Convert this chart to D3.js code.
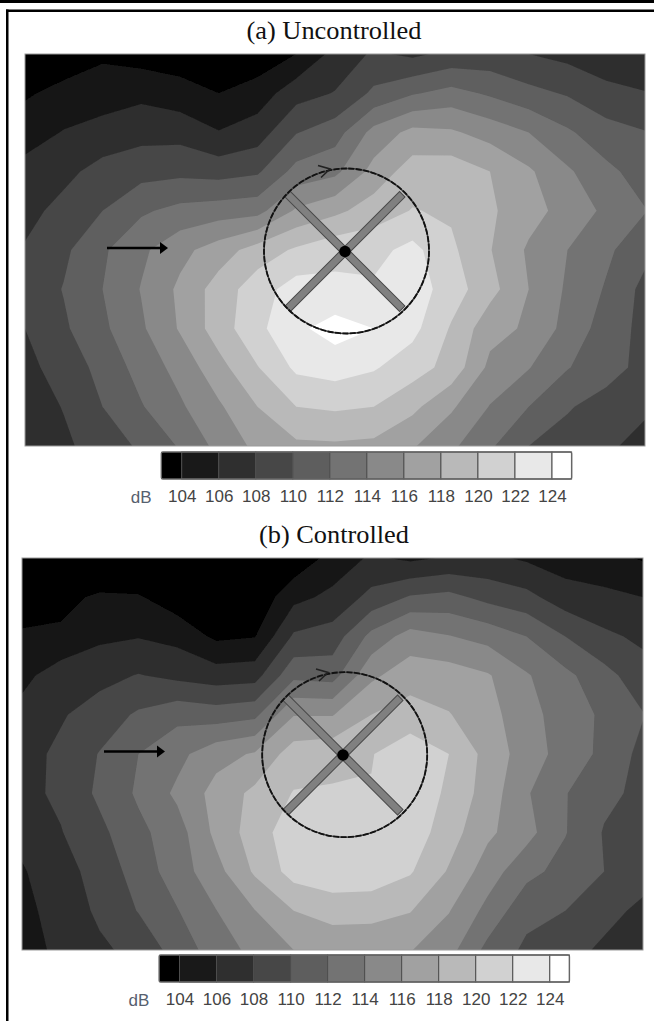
<!DOCTYPE html>
<html>
<head>
<meta charset="utf-8">
<title>Uncontrolled / Controlled</title>
<script src="https://cdn.jsdelivr.net/npm/d3@7"></script>
<style>
body { margin: 0; background: #fff; }
svg { display: block; }
</style>
</head>
<body>
<div id="chart"></div>
<script>
var uncontrolledCols = [
	[102,103.7,105.2,106.6,107.3,108.2,108.6,108,107.4,106.9,106.5],
	[102.6,104.7,106.1,107.4,108.7,109.6,110.1,109.7,108.9,108.1,107.6],
	[103.6,105.2,106.6,108.8,110,111.7,112,111.6,110.6,110,109],
	[103.1,105.5,107.3,109.3,111.7,113.6,114.1,113.7,112.8,111.85,110.3],
	[102.9,104.8,107.3,109.5,112.6,115.4,116.4,116.2,114.7,113.7,112.2],
	[102,104,106.1,109.2,113,117,118.9,119,117.3,115.7,114.6],
	[102.7,104.9,107,109.7,113.3,118.9,121.1,121.5,119.9,118,116.5],
	[104,107.2,109.9,112.7,116.3,120.3,122.9,123.6,122.4,120,117.6],
	[106.65,108.1,111.1,113.5,117.5,121.4,122.5,124.8,122.9,120.3,117.7],
	[108.3,110.4,114.7,116.7,119,121.4,122.3,124,122.2,120,117.5],
	[107.6,111.8,116.6,119,120.1,122.6,123.1,122.6,120.9,118.5,116.2],
	[108.5,112.7,116.3,119.2,119.7,120.4,121,119.8,119.3,116.3,114.4],
	[108.7,111.7,115.2,118,118.3,118.1,118.7,116.7,115.5,113.9,112.3],
	[108,110.6,114,116.3,116.8,115.7,116,115.7,114.1,112,110],
	[107.4,109.8,112.3,114.3,115.2,114,113.7,113.3,112.1,110.2,109.1],
	[106.7,108.6,110.8,112.5,113.6,112.4,111.8,111.1,110.9,109.1,108.3],
	[106.3,108.1,110.1,111.1,112.1,110.6,109.4,109.4,109.3,108.3,107.4]
];
var controlledCols = [
	[100.5,103.2,104.2,105.4,106.7,107.3,107.4,106.6,105.8,105.3,104.9],
	[100.8,103.5,104.3,107.1,107.8,108.4,108.4,107.9,107.3,107,106.6],
	[101.8,104.3,105.6,107.4,108.9,110.1,110.4,109.5,108.7,108.3,107.7],
	[101.5,104.2,105.9,108.1,110.3,112,112.3,111.5,110.9,110.1,108.5],
	[101,102.8,105.4,107.5,111.4,113.4,114.4,113.1,113,111.9,110.9],
	[101,102,103.6,107,111,115.3,116.7,116.5,115.3,113.95,112.9],
	[101,102.5,103.9,107.2,111.5,116.2,118.5,119,118.3,115.95,114.6],
	[102.5,105.4,108.3,111.5,115.9,119,120.1,121.2,120.8,118,116],
	[104.7,106.5,108.9,111.2,115.9,119.4,120.2,121.5,121.3,118.9,116.4],
	[106.3,108.6,112.6,115.6,118,119.9,120.1,121.6,121.2,118.8,116.4],
	[105.6,110.2,114.9,117.1,118.9,121.2,121.5,121.2,120.2,118.1,116.1],
	[106.2,110.6,114.1,117,118.1,120,119.6,118.9,117.8,116.1,114.7],
	[106.4,109.4,113.3,116.2,116.8,117.3,117.1,116.4,115,113.4,111.4],
	[105.7,108.6,112,114.2,114.6,115,114.2,114.7,112.6,110.6,109.6],
	[105,106.9,110,112.5,113.2,113.2,112.1,112.1,111.3,110,108.8],
	[104.6,106.5,108.4,110.7,111.6,111.5,110.5,109.85,110,108.7,107.6],
	[103.8,106,107.6,108.8,110.1,109.4,109.5,109,108.9,107.5,106.5]
];

var levels = [104,106,108,110,112,114,116,118,120,122,124];
var grays = ["#000000","#191919","#2f2f2f","#474747","#5e5e5e","#737373","#898989","#a1a1a1","#b9b9b9","#d1d1d1","#e8e8e8","#ffffff"];
var legendEnds = [102.9,125.06];
var bladeAngles = [45,135,225,315];

var color = d3.scaleThreshold().domain(levels).range(grays);

var svg = d3.select("#chart").append("svg")
	.attr("width", 654)
	.attr("height", 1021);

svg.append("defs").append("filter")
	.attr("id", "soft")
	.append("feGaussianBlur")
	.attr("stdDeviation", 0.6);

// page rules
svg.append("rect").attr("x", 0).attr("y", 0).attr("width", 654).attr("height", 3).style("fill", "#000");
svg.append("rect").attr("x", 6).attr("y", 9.5).attr("width", 648).attr("height", 2.5).style("fill", "#000");
svg.append("rect").attr("x", 6).attr("y", 9.5).attr("width", 2.5).attr("height", 1012).style("fill", "#000");

//=================panel===============//
function drawPanel(p){
	var nCol = p.cols.length, nRow = p.cols[0].length;
	var x = d3.scaleLinear().domain([0, nCol-1]).range([p.x0, p.x1]);
	var y = d3.scaleLinear().domain([0, nRow-1]).range([p.y0, p.y1]);

	svg.append("text")
		.attr("x", p.titleX)
		.attr("y", p.titleY)
		.attr("text-anchor", "middle")
		.attr("textLength", p.titleW)
		.attr("lengthAdjust", "spacingAndGlyphs")
		.style("font-family", "'Liberation Serif'")
		.style("font-size", "24.5px")
		.style("fill", "#111")
		.text(p.title);

	svg.append("clipPath").attr("id", p.id)
		.append("rect")
		.attr("x", p.x0).attr("y", p.y0)
		.attr("width", p.x1-p.x0).attr("height", p.y1-p.y0);

	var values = d3.merge(d3.transpose(p.cols));
	var contours = d3.contours().size([nCol, nRow]).smooth(true).thresholds(levels)(values);
	// d3.contours puts the samples in the middle of each cell
	var path = d3.geoPath(d3.geoTransform({
		point: function(a, b){ this.stream.point(x(a-0.5), y(b-0.5)); }
	}));

	var g = svg.append("g").attr("clip-path", "url(#"+p.id+")");
	var soft = g.append("g").attr("filter", "url(#soft)");
	soft.append("rect")
		.attr("x", p.x0-3).attr("y", p.y0-3)
		.attr("width", p.x1-p.x0+6).attr("height", p.y1-p.y0+6)
		.style("fill", grays[0]);
	soft.selectAll("path")
		.data(contours)
		.enter()
		.append("path")
		.attr("d", path)
		.style("fill", function(d){ return color(d.value)});

	svg.append("rect")
		.attr("x", p.x0).attr("y", p.y0)
		.attr("width", p.x1-p.x0).attr("height", p.y1-p.y0)
		.style("fill", "none")
		.style("stroke", "#9a9a9a")
		.style("stroke-width", 1);

	// flow arrow
	svg.append("line")
		.attr("x1", p.arrowX).attr("y1", p.arrowY)
		.attr("x2", p.arrowX+54).attr("y2", p.arrowY)
		.style("stroke", "#000").style("stroke-width", 2.6);
	svg.append("path")
		.attr("transform", "translate("+(p.arrowX+61)+","+p.arrowY+")")
		.attr("d", "M0,0L-8,-6L-8,6Z")
		.style("fill", "#000");

	// rotor
	var rotor = svg.append("g").attr("transform", "translate("+p.hubX+","+p.hubY+")");
	rotor.selectAll("rect")
		.data(bladeAngles)
		.enter()
		.append("rect")
		.attr("x", 0).attr("y", -3.8)
		.attr("width", 81).attr("height", 7.6)
		.attr("transform", function(d){ return "rotate("+d+")"})
		.style("fill", "#808080")
		.style("stroke", "#4a4a4a")
		.style("stroke-width", 1);
	rotor.append("circle").attr("r", 5.8).style("fill", "#000");

	var ring = svg.append("g").attr("transform", "translate("+p.ringX+","+p.ringY+")");
	ring.append("circle").attr("r", 82.5)
		.style("fill", "none").style("stroke", "#444").style("stroke-width", 1.5);
	ring.append("circle").attr("r", 82.5)
		.style("fill", "none").style("stroke", "#111").style("stroke-width", 1.8)
		.style("stroke-dasharray", "6,1.5");
	svg.append("path")
		.attr("transform", "translate("+p.hubX+","+p.hubY+")")
		.attr("d", "M-27,-86L-15,-82.5L-24,-74")
		.style("fill", "none")
		.style("stroke", "#222")
		.style("stroke-width", 1.6);

	// legend
	var lx = d3.scaleLinear().domain([levels[0], levels[levels.length-1]]).range([p.legendX, p.legendX+370.3]);
	var stops = [legendEnds[0]].concat(levels, [legendEnds[1]]);
	var legend = svg.append("g");
	legend.selectAll("rect")
		.data(d3.pairs(stops))
		.enter()
		.append("rect")
		.attr("x", function(d){ return lx(d[0])})
		.attr("y", p.legendY)
		.attr("width", function(d){ return lx(d[1])-lx(d[0])})
		.attr("height", 27)
		.style("fill", function(d){ return color(d[0])})
		.style("stroke", function(d,i){ return i==0 ? "none" : "#4d4d4d"})
		.style("stroke-width", 1);
	legend.append("rect")
		.attr("x", lx(legendEnds[0]))
		.attr("y", p.legendY)
		.attr("width", lx(legendEnds[1])-lx(legendEnds[0]))
		.attr("height", 27)
		.attr("rx", 1.5)
		.style("fill", "none")
		.style("stroke", "#666")
		.style("stroke-width", 1.4);

	var axis = d3.axisBottom(lx).tickValues(levels.filter(function(d){ return d%2==0})).tickSize(0).tickPadding(0);
	var ax = svg.append("g")
		.attr("transform", "translate(0,"+(p.legendY+38)+")")
		.call(axis);
	ax.select(".domain").remove();
	ax.selectAll("text")
		.style("font-family", "'Liberation Sans'")
		.style("font-size", "17px")
		.style("fill", "#444");
	svg.append("text")
		.attr("x", p.legendX-40.5)
		.attr("y", p.legendY+50.5)
		.attr("text-anchor", "middle")
		.style("font-family", "'Liberation Sans'")
		.style("font-size", "17px")
		.style("fill", "#56606e")
		.text("dB");
}

drawPanel({ id:"clipA", title:"(a) Uncontrolled", cols:uncontrolledCols,
	x0:25, x1:645, y0:54, y1:446, titleX:334, titleY:39, titleW:175,
	arrowX:107, arrowY:248, hubX:345, hubY:251.5, ringX:346.5, ringY:251,
	legendX:181.7, legendY:452 });

drawPanel({ id:"clipB", title:"(b) Controlled", cols:controlledCols,
	x0:22, x1:643, y0:558, y1:950, titleX:334, titleY:543, titleW:150,
	arrowX:104, arrowY:751.5, hubX:343, hubY:755, ringX:344.7, ringY:754.7,
	legendX:179.5, legendY:955 });
</script>
</body>
</html>
